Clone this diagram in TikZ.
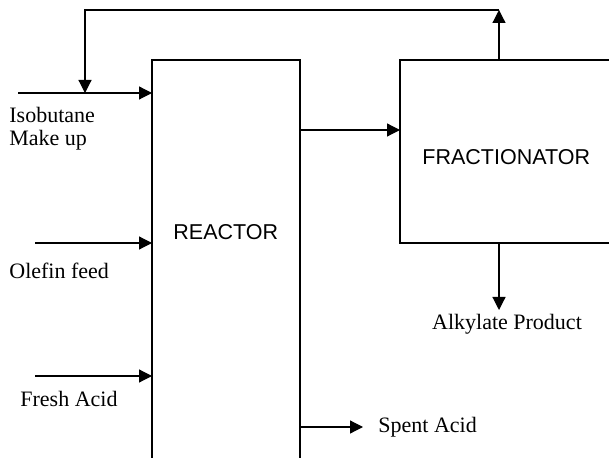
\documentclass[tikz,border=0pt]{standalone}
\usepackage{fontspec}
\setmainfont{Liberation Serif}
\newfontfamily\boxfont{Liberation Sans}
\usetikzlibrary{arrows.meta}

\tikzset{
  unit/.style={draw, line width=0.6pt, inner sep=0pt, outer sep=0pt},
  flow/.style={line width=0.6pt, -{Triangle[length=6.5pt,width=6.5pt]}},
  lbl/.style={font=\fontsize{11}{11.5}\selectfont, inner sep=0pt, anchor=base west},
  boxlbl/.style={font=\boxfont\fontsize{10.75}{13}\selectfont, inner sep=0pt, anchor=base west},
}

\begin{document}
\begin{tikzpicture}[x=0.5pt, y=-0.5pt]

    \useasboundingbox (0,0) rectangle (609,458);
    \clip (0,0) rectangle (609,458);

    % coordinates
    \coordinate (iso)   at (18,93);
    \coordinate (ole)   at (35,243);
    \coordinate (acid)  at (35,376);
    \coordinate (eff)   at (300,130);
    \coordinate (top)   at (499,10);
    \coordinate (back)  at (85,10);
    \coordinate (spent) at (363,427);
    \coordinate (prod)  at (499,310);

    % units
    \node[unit, minimum width=74pt, minimum height=210pt] (reactor) at (226,270) {};
    \node[unit, minimum width=120pt, minimum height=91.5pt] (frac) at (520,151.5) {};

    % feeds
    \draw[flow] (iso) -- (iso -| reactor.west);
    \draw[flow] (ole) -- (ole -| reactor.west);
    \draw[flow] (acid) -- (acid -| reactor.west);

    % reactor -> fractionator
    \draw[flow] (eff) -- (eff -| frac.west);

    % recycle
    \draw[flow] (frac.north -| top) -- (top);
    \draw[flow] (top) -- (back) -- (back |- iso);

    % products
    \draw[flow] (frac.south -| prod) -- (prod);
    \draw[flow] (reactor.east |- spent) -- (spent);

    % labels
    \node[lbl, anchor=west, align=left] (isolbl) at (9,129) {Isobutane\\Make up};
    \node[lbl] (olelbl) at (9,279) {Olefin feed};
    \node[lbl] (acidlbl) at (20,407) {Fresh Acid};
    \node[lbl] (spentlbl) at (378,432) {Spent Acid};
    \node[lbl, anchor=base] (prodlbl) at (507,330) {Alkylate Product};
    \node[boxlbl] (reactorlbl) at (173,240) {REACTOR};
    \node[boxlbl] (fraclbl) at (422,165) {FRACTIONATOR};

\end{tikzpicture}
\end{document}
